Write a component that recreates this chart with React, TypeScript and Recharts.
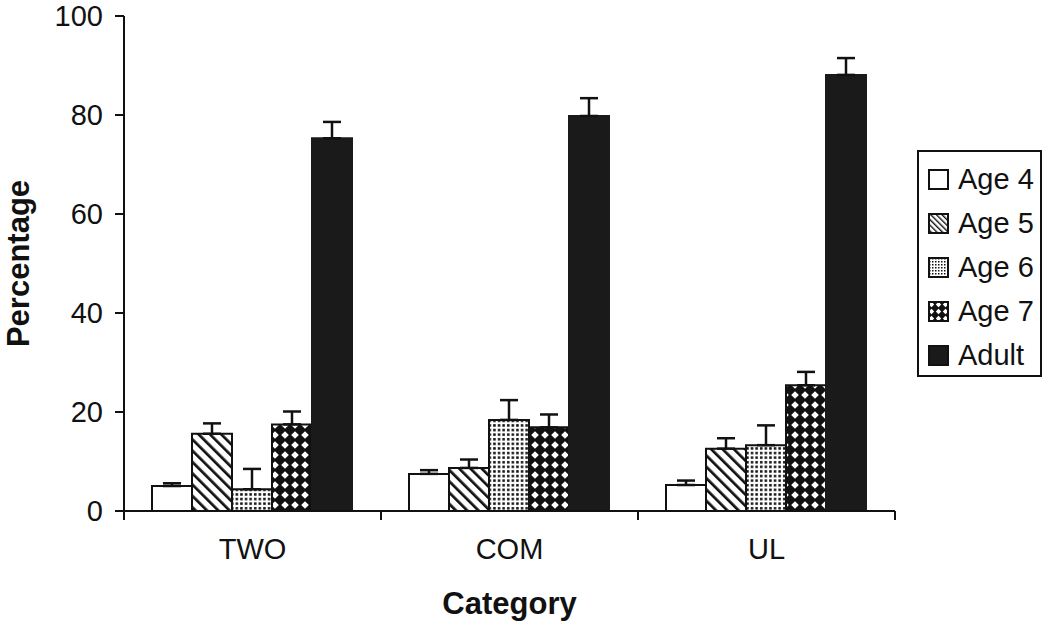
import { BarChart, Bar, XAxis, YAxis, ErrorBar, Legend } from "recharts";

const categories = ["TWO", "COM", "UL"];
const age4 = [5.05, 7.5, 5.25];
const age4Err = [0.55, 0.75, 0.9];
const age5 = [15.6, 8.7, 12.6];
const age5Err = [2.1, 1.7, 2.1];
const age6 = [4.4, 18.4, 13.3];
const age6Err = [4.1, 4.0, 4.0];
const age7 = [17.5, 16.9, 25.4];
const age7Err = [2.6, 2.6, 2.7];
const adult = [75.3, 79.8, 88.1];
const adultErr = [3.3, 3.6, 3.4];
const yTicks = [0, 20, 40, 60, 80, 100];

const FONT = '"Liberation Sans", Arial, sans-serif';

const series = [
  { key: "age4", name: "Age 4", fill: "#ffffff", stroke: "#111", swatch: "#ffffff" },
  { key: "age5", name: "Age 5", fill: "url(#stripes)", stroke: "#111", swatch: "url(#stripesSm)" },
  { key: "age6", name: "Age 6", fill: "url(#dots)", stroke: "#111", swatch: "url(#dotsSm)" },
  { key: "age7", name: "Age 7", fill: "url(#diamonds)", stroke: "#111", swatch: "url(#diamondsSm)" },
  { key: "adult", name: "Adult", fill: "#1a1a1a", stroke: "#1a1a1a", swatch: "#1a1a1a" },
];

const data = categories.map((name, i) => ({
  name,
  age4: age4[i],
  age4Err: [0, age4Err[i]],
  age5: age5[i],
  age5Err: [0, age5Err[i]],
  age6: age6[i],
  age6Err: [0, age6Err[i]],
  age7: age7[i],
  age7Err: [0, age7Err[i]],
  adult: adult[i],
  adultErr: [0, adultErr[i]],
}));

function Patterns({ small }: { small?: boolean }) {
  const s = small ? "Sm" : "";
  const k = small ? 0.5 : 1;
  return (
    <defs>
      <pattern
        id={`stripes${s}`}
        patternUnits="userSpaceOnUse"
        width={8 * k}
        height={8 * k}
        patternTransform="rotate(-45)"
      >
        <rect width={8 * k} height={8 * k} fill="#fff" />
        <rect x={0} y={0} width={small ? 1.4 : 2.7} height={8 * k} fill="#111" />
      </pattern>
      <pattern id={`dots${s}`} patternUnits="userSpaceOnUse" width={small ? 3 : 4.6} height={small ? 3 : 4.6}>
        <rect width={5} height={5} fill="#fff" />
        <rect x={1} y={1} width={small ? 1.5 : 2.5} height={small ? 1.5 : 2.5} fill="#111" />
      </pattern>
      <pattern id={`diamonds${s}`} patternUnits="userSpaceOnUse" width={small ? 7 : 10} height={small ? 7 : 10}>
        <rect width={10} height={10} fill="#111" />
        {small ? (
          <polygon points="3.5,0.8 6.2,3.5 3.5,6.2 0.8,3.5" fill="#fff" />
        ) : (
          <polygon points="5,1.2 8.8,5 5,8.8 1.2,5" fill="#fff" />
        )}
      </pattern>
    </defs>
  );
}

function CategoryTick(props: any) {
  const { x, y, payload, index, visibleTicksCount, width } = props;
  const count = visibleTicksCount || categories.length;
  const band = (width || 771) / count;
  const left = x - band / 2;
  const right = x + band / 2;
  return (
    <g>
      <line x1={left} x2={left} y1={y} y2={y + 9} stroke="#111" strokeWidth={2} />
      {index === count - 1 && (
        <line x1={right} x2={right} y1={y} y2={y + 9} stroke="#111" strokeWidth={2} />
      )}
      <text
        x={x}
        y={y + 27}
        dy="0.71em"
        textAnchor="middle"
        fill="#111"
        style={{ fontFamily: FONT, fontSize: 29 }}
      >
        {payload.value}
      </text>
    </g>
  );
}

function YTitle(props: any) {
  const vb = props.viewBox || {};
  const cx = 18;
  const cy = (vb.y ?? 16) + (vb.height ?? 495) / 2;
  return (
    <text
      x={cx}
      y={cy}
      transform={`rotate(-90 ${cx} ${cy})`}
      textAnchor="middle"
      dominantBaseline="central"
      fill="#111"
      style={{ fontFamily: FONT, fontSize: 31, fontWeight: 700 }}
    >
      Percentage
    </text>
  );
}

function XTitle(props: any) {
  const vb = props.viewBox || {};
  const cx = (vb.x ?? 124) + (vb.width ?? 771) / 2;
  return (
    <text
      x={cx}
      y={603}
      textAnchor="middle"
      dominantBaseline="central"
      fill="#111"
      style={{ fontFamily: FONT, fontSize: 31, fontWeight: 700 }}
    >
      Category
    </text>
  );
}

function LegendBox() {
  return (
    <div
      style={{
        boxSizing: "border-box",
        width: 125,
        height: 227,
        border: "2px solid #111",
        paddingTop: 5,
        paddingLeft: 9,
        background: "#fff",
        fontFamily: FONT,
        fontSize: 29,
        color: "#111",
      }}
    >
      {series.map((s) => (
        <div key={s.key} style={{ height: 44, display: "flex", alignItems: "center" }}>
          <svg width={21} height={21} style={{ display: "block", marginRight: 9 }}>
            <Patterns small />
            <rect x={1} y={1} width={19} height={19} fill={s.swatch} stroke="#111" strokeWidth={2} />
          </svg>
          <span style={{ lineHeight: "44px" }}>{s.name}</span>
        </div>
      ))}
    </div>
  );
}

export default function App() {
  return (
    <div style={{ position: "absolute", left: 0, top: 0, width: 1050, height: 624, background: "#fff" }}>
      <BarChart
        width={1050}
        height={624}
        data={data}
        margin={{ top: 16, right: 155, bottom: 53, left: 0 }}
        barCategoryGap={28}
        barGap={0}
      >
        <Patterns />
        <XAxis
          dataKey="name"
          height={60}
          axisLine={{ stroke: "#111", strokeWidth: 2 }}
          tickLine={false}
          tickSize={0}
          tickMargin={0}
          tick={<CategoryTick />}
          interval={0}
          label={{ content: <XTitle /> }}
        />
        <YAxis
          width={124}
          domain={[0, 100]}
          ticks={yTicks}
          interval={0}
          axisLine={{ stroke: "#111", strokeWidth: 2 }}
          tickLine={{ stroke: "#111", strokeWidth: 2 }}
          tickSize={9}
          tickMargin={12}
          tick={{ fill: "#111", fontSize: 29, fontFamily: FONT }}
          label={{ content: <YTitle /> }}
        />
        <Legend
          layout="vertical"
          align="center"
          verticalAlign="middle"
          content={<LegendBox />}
          wrapperStyle={{ left: 917, top: 150, width: 125, height: 227 }}
        />
        {series.map((s) => (
          <Bar
            key={s.key}
            dataKey={s.key}
            name={s.name}
            fill={s.fill}
            stroke={s.stroke}
            strokeWidth={2}
            isAnimationActive={false}
          >
            <ErrorBar
              dataKey={`${s.key}Err`}
              width={9}
              stroke="#111"
              strokeWidth={2.5}
              direction="y"
            />
          </Bar>
        ))}
      </BarChart>
    </div>
  );
}
